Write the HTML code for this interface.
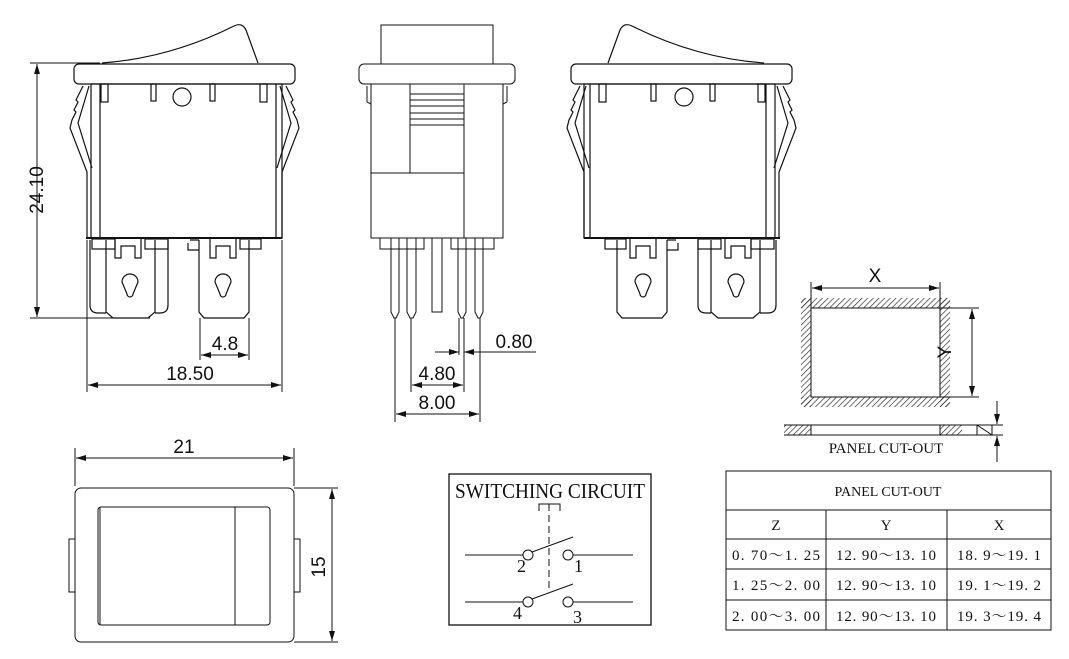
<!DOCTYPE html>
<html><head><meta charset="utf-8"><style>
html,body{margin:0;padding:0;background:#fff}
svg{display:block}
.d{font-family:"Liberation Sans",sans-serif;font-size:19px;fill:#111;font-weight:300}
.s{font-family:"Liberation Serif","Noto Serif CJK SC",serif;fill:#111}
</style></head><body>
<svg width="1069" height="659" viewBox="0 0 1069 659" xmlns="http://www.w3.org/2000/svg">
<defs>
<pattern id="h" width="4" height="4" patternUnits="userSpaceOnUse" patternTransform="rotate(45)">
<line x1="0" y1="0" x2="0" y2="4" stroke="#222" stroke-width="1.3"/></pattern>
<marker id="a" viewBox="0 0 10 6" refX="10" refY="3" markerWidth="10" markerHeight="6" orient="auto-start-reverse" markerUnits="userSpaceOnUse"><path d="M0,0 L10,3 L0,6 z" fill="#111"/></marker>
<g id="sw" fill="none" stroke="#111" stroke-width="1.2">
<path d="M102,63 Q170,58 234,26 Q242,22 246,30 L258,63"/>
<rect x="74" y="64" width="221" height="20" rx="5"/>
<rect x="91" y="84" width="191" height="154"/>
<line x1="100" y1="84" x2="100" y2="238"/><line x1="276" y1="84" x2="276" y2="238"/>
<rect x="101" y="84" width="7" height="18"/><rect x="151" y="84" width="5" height="17"/>
<rect x="210" y="84" width="5" height="17"/><rect x="260" y="84" width="7" height="18"/>
<circle cx="182" cy="97" r="9"/>
<path d="M83,86 L76,100 L78,102 L74,110 L76,112 L72,120 L70,128 L87,172 L87,238"/>
<path d="M89,86 L78,123 L92,168"/>
<path d="M286,86 L293,100 L291,102 L295,110 L293,112 L297,120 L299,128 L282,172 L282,238"/>
<path d="M280,86 L291,123 L277,168"/>
<line x1="86" y1="238" x2="282" y2="238" stroke-width="2"/>
<path d="M90,240 L90,305 Q90,313 98,313 L106,313 M168,240 L168,305 Q168,313 160,313 L155,313"/>
<path d="M106,240 L106,312 L113,318 L148,318 L155,312 L155,240"/>
<rect x="92" y="239" width="23" height="10"/><rect x="145" y="239" width="23" height="10"/>
<path d="M115,239 L115,258 L121,258 L121,246 L135,246 L135,258 L141,258 L141,239"/>
<path d="M122,282 a8,8 0 0 1 16,0 l-5,12 a3,3 0 0 1 -6,0 z"/>
<path d="M199,240 L199,312 L204,318 L244,318 L249,312 L249,240"/>
<rect x="240" y="239" width="21" height="10"/>
<path d="M210,239 L210,258 L216,258 L216,246 L230,246 L230,258 L236,258 L236,239"/>
<path d="M190,240 L199,240 M188,243 L188,250 L199,250"/>
<path d="M215,282 a8,8 0 0 1 16,0 l-5,12 a3,3 0 0 1 -6,0 z"/>
</g>
</defs>

<use href="#sw"/>
<use href="#sw" transform="translate(866,0) scale(-1,1)"/>

<g fill="none" stroke="#111" stroke-width="1">
<line x1="30" y1="63" x2="100" y2="63"/><line x1="30" y1="318" x2="150" y2="318"/>
<line x1="37" y1="64" x2="37" y2="317" marker-start="url(#a)" marker-end="url(#a)"/>
<line x1="200" y1="318" x2="200" y2="360"/><line x1="249" y1="318" x2="249" y2="360"/>
<line x1="201" y1="355" x2="248" y2="355" marker-start="url(#a)" marker-end="url(#a)"/>
<line x1="87" y1="240" x2="87" y2="392"/><line x1="282" y1="240" x2="282" y2="392"/>
<line x1="88" y1="385" x2="281" y2="385" marker-start="url(#a)" marker-end="url(#a)"/>

<rect x="381" y="25" width="112" height="39"/>
<rect x="359" y="64" width="156" height="20" rx="5"/>
<rect x="371" y="84" width="132" height="154"/>
<path d="M367,86 L367,102 L371,104 M507,86 L507,102 L503,104"/>
<line x1="410" y1="84" x2="410" y2="173"/><line x1="464" y1="84" x2="464" y2="238"/>
<line x1="371" y1="173" x2="464" y2="173"/>
<path d="M410,94H464M410,100H464M410,106H464M410,113H464M410,119H464M410,125H464"/>
<rect x="380" y="238" width="44" height="11"/><rect x="451" y="238" width="43" height="11"/>
<path d="M391,238V312L394,318L396,318L399,312V238"/>
<path d="M407,238V312L410,318L413,318L416,312V238"/>
<path d="M458,238V312L461,318L463,318L466,312V238"/>
<path d="M475,238V312L478,318L480,318L483,312V238"/>
<rect x="432" y="238" width="10" height="74" fill="#fff"/>
<line x1="395" y1="318" x2="395" y2="422"/><line x1="411" y1="318" x2="411" y2="392"/>
<line x1="459" y1="318" x2="459" y2="355"/><line x1="464" y1="318" x2="464" y2="392"/>
<line x1="480" y1="318" x2="480" y2="422"/>
<line x1="435" y1="352" x2="459" y2="352" marker-end="url(#a)"/>
<line x1="464" y1="352" x2="536" y2="352" marker-start="url(#a)"/>
<line x1="412" y1="385" x2="463" y2="385" marker-start="url(#a)" marker-end="url(#a)"/>
<line x1="396" y1="414" x2="479" y2="414" marker-start="url(#a)" marker-end="url(#a)"/>

<rect x="75" y="488" width="219" height="154" rx="6"/>
<rect x="98" y="507" width="172" height="118" rx="3"/>
<line x1="100" y1="507" x2="100" y2="625"/>
<line x1="235" y1="507" x2="235" y2="625"/>
<rect x="69" y="539" width="6" height="53"/><rect x="294" y="539" width="6" height="53"/>
<line x1="75" y1="448" x2="75" y2="486"/><line x1="294" y1="448" x2="294" y2="486"/>
<line x1="76" y1="458" x2="293" y2="458" marker-start="url(#a)" marker-end="url(#a)"/>
<line x1="294" y1="488" x2="338" y2="488"/><line x1="294" y1="642" x2="338" y2="642"/>
<line x1="332" y1="489" x2="332" y2="641" marker-start="url(#a)" marker-end="url(#a)"/>

<rect x="449" y="474" width="202" height="151" stroke-width="1.3"/>
<path d="M539,511V504H560V511"/>
<line x1="549" y1="504" x2="549" y2="592" stroke-dasharray="7,4"/>
<line x1="465" y1="555" x2="523" y2="555"/><circle cx="528" cy="555" r="5"/>
<line x1="532" y1="552" x2="573" y2="537"/>
<circle cx="568" cy="555" r="5"/><line x1="573" y1="555" x2="633" y2="555"/>
<line x1="465" y1="602" x2="523" y2="602"/><circle cx="528" cy="602" r="5"/>
<line x1="532" y1="599" x2="573" y2="584"/>
<circle cx="568" cy="602" r="5"/><line x1="573" y1="602" x2="633" y2="602"/>

<rect x="801" y="298" width="149" height="10" fill="url(#h)" stroke="none"/>
<rect x="801" y="397" width="149" height="10" fill="url(#h)" stroke="none"/>
<rect x="801" y="298" width="10" height="109" fill="url(#h)" stroke="none"/>
<rect x="940" y="298" width="10" height="109" fill="url(#h)" stroke="none"/>
<rect x="811" y="308" width="129" height="89"/>
<line x1="811" y1="282" x2="811" y2="308"/><line x1="940" y1="282" x2="940" y2="308"/>
<line x1="812" y1="288" x2="939" y2="288" marker-start="url(#a)" marker-end="url(#a)"/>
<line x1="940" y1="308" x2="979" y2="308"/><line x1="940" y1="397" x2="979" y2="397"/>
<line x1="972" y1="309" x2="972" y2="396" marker-start="url(#a)" marker-end="url(#a)"/>
<rect x="784" y="425" width="27" height="10" fill="url(#h)" stroke="none"/>
<rect x="940" y="425" width="22" height="10" fill="url(#h)" stroke="none"/>
<line x1="784" y1="425" x2="1003" y2="425"/><line x1="784" y1="435" x2="1003" y2="435"/>
<line x1="811" y1="425" x2="811" y2="435"/><line x1="940" y1="425" x2="940" y2="435"/>
<path d="M977,425V435H992L977,425M992,425V435"/>
<line x1="997" y1="401" x2="997" y2="424" marker-end="url(#a)"/>
<line x1="997" y1="436" x2="997" y2="462" marker-start="url(#a)"/>

<rect x="726" y="471" width="325" height="159"/>
<path d="M726,510H1051M726,539H1051M726,569H1051M726,600H1051M826,510V630M947,510V630"/>
</g>

<text class="d" transform="translate(43,190) rotate(-90)" text-anchor="middle">24.10</text>
<text class="d" x="225" y="350" text-anchor="middle">4.8</text>
<text class="d" x="190" y="380" text-anchor="middle">18.50</text>
<text class="d" x="514" y="348" text-anchor="middle">0.80</text>
<text class="d" x="437" y="380" text-anchor="middle">4.80</text>
<text class="d" x="437" y="409" text-anchor="middle">8.00</text>
<text class="d" x="184" y="453" text-anchor="middle">21</text>
<text class="d" transform="translate(325,567) rotate(-90)" text-anchor="middle">15</text>
<text class="d" x="875" y="282" text-anchor="middle">X</text>
<text class="d" transform="translate(951,352) rotate(-90)" text-anchor="middle">Y</text>

<text class="s" x="550" y="498" font-size="21" text-anchor="middle" textLength="190" lengthAdjust="spacingAndGlyphs">SWITCHING CIRCUIT</text>
<text class="s" x="517" y="572" font-size="18">2</text>
<text class="s" x="574" y="572" font-size="18">1</text>
<text class="s" x="513" y="619" font-size="18">4</text>
<text class="s" x="573" y="623" font-size="18">3</text>
<text class="s" x="886" y="453" font-size="15" text-anchor="middle">PANEL CUT-OUT</text>

<g class="s" font-size="15" text-anchor="middle">
<text x="888" y="496" font-size="14">PANEL CUT-OUT</text>
<text x="776" y="530">Z</text><text x="886" y="530">Y</text><text x="999" y="530">X</text>
<text x="776" y="560" textLength="88">0. 70～1. 25</text><text x="886" y="560" textLength="100">12. 90～13. 10</text><text x="999" y="560" textLength="84">18. 9～19. 1</text>
<text x="776" y="590" textLength="88">1. 25～2. 00</text><text x="886" y="590" textLength="100">12. 90～13. 10</text><text x="999" y="590" textLength="84">19. 1～19. 2</text>
<text x="776" y="621" textLength="88">2. 00～3. 00</text><text x="886" y="621" textLength="100">12. 90～13. 10</text><text x="999" y="621" textLength="84">19. 3～19. 4</text>
</g>
</svg>
</body></html>
